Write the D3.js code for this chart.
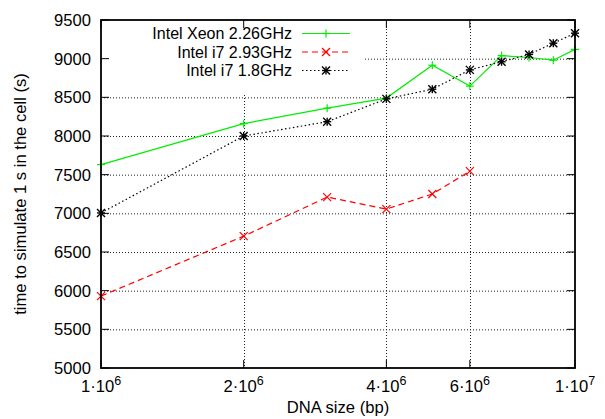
<!DOCTYPE html>
<html>
<head>
<meta charset="utf-8">
<script src="https://cdnjs.cloudflare.com/ajax/libs/d3/7.8.5/d3.min.js"></script>
<style>
  body { margin: 0; background: #fff; }
  svg { display: block; font-family: "Liberation Sans", Arial, sans-serif; }
</style>
</head>
<body>
<svg id="chart" width="605" height="419"></svg>
<script>
// Данные
const DNA_SIZES = [1e6, 2e6, 3e6, 4e6, 5e6, 6e6, 7e6, 8e6, 9e6, 1e7];
const XEON_226 = [7630, 8160, 8360, 8490, 8915, 8645, 9040, 9015, 8980, 9120];
const I7_293 = [5930, 6705, 7210, 7055, 7250, 7545];
const I7_18 = [7005, 8000, 8185, 8480, 8605, 8855, 8960, 9055, 9200, 9330];

const X_TICKS = [1e6, 2e6, 4e6, 6e6, 1e7];
const X_TICK_BASE = ['1·10', '2·10', '4·10', '6·10', '1·10'];
const X_TICK_EXP = ['6', '6', '6', '6', '7'];
const Y_TICKS = [5000, 5500, 6000, 6500, 7000, 7500, 8000, 8500, 9000, 9500];

const SERIES = [
    { name: 'Intel Xeon 2.26GHz', values: XEON_226, color: '#00ee00', dash: null, marker: 'plus' },
    { name: 'Intel i7 2.93GHz', values: I7_293, color: '#ff0000', dash: '6,4', marker: 'cross' },
    { name: 'Intel i7 1.8GHz', values: I7_18, color: '#000000', dash: '1.5,2.5', marker: 'star' }
];

const FONT = 16.6;
const svg = d3.select('#chart');
const pLeft = 101, pRight = 575, pTop = 20, pBottom = 368;

const x = d3.scaleLog().domain([1e6, 1e7]).range([pLeft, pRight]);
const y = d3.scaleLinear().domain([5000, 9500]).range([pBottom, pTop]);

// Сетка
const grid = svg.append('g')
    .attr('stroke', '#222')
    .attr('stroke-width', 1)
    .attr('stroke-dasharray', '1,2');
grid.selectAll('.yg').data(Y_TICKS.slice(1, -1)).enter().append('line')
    .attr('x1', pLeft).attr('x2', pRight)
    .attr('y1', d => y(d) + 0.5).attr('y2', d => y(d) + 0.5);
grid.selectAll('.xg').data(X_TICKS.slice(1, -1)).enter().append('line')
    .attr('x1', d => Math.round(x(d)) + 0.5).attr('x2', d => Math.round(x(d)) + 0.5)
    .attr('y1', pTop).attr('y2', pBottom);

// Фон легенды
svg.append('rect')
    .attr('x', pLeft + 1).attr('y', pTop + 1)
    .attr('width', 261).attr('height', 73)
    .attr('fill', '#fff');

// Маркеры
function drawMarker(g, type, cx, cy, color) {
    const s = 4;
    const lines = [];
    if (type === 'plus' || type === 'star') {
        lines.push([cx - s, cy, cx + s, cy], [cx, cy - s, cx, cy + s]);
    }
    if (type === 'cross' || type === 'star') {
        lines.push([cx - s, cy - s, cx + s, cy + s], [cx - s, cy + s, cx + s, cy - s]);
    }
    lines.forEach(l => {
        g.append('line')
            .attr('x1', l[0]).attr('y1', l[1]).attr('x2', l[2]).attr('y2', l[3])
            .attr('stroke', color)
            .attr('stroke-width', type === 'star' ? 1.4 : 1.2);
    });
}

// Линии серий
const line = d3.line()
    .x((d, i) => x(DNA_SIZES[i]))
    .y(d => y(d));

SERIES.forEach(s => {
    const g = svg.append('g');
    g.append('path')
        .datum(s.values)
        .attr('d', line)
        .attr('fill', 'none')
        .attr('stroke', s.color)
        .attr('stroke-width', 1.2)
        .attr('stroke-dasharray', s.dash);
    s.values.forEach((v, i) => drawMarker(g, s.marker, x(DNA_SIZES[i]), y(v), s.color));
});

// Легенда
const legendY = [33.5, 52, 70.5];
SERIES.forEach((s, i) => {
    const g = svg.append('g');
    g.append('text')
        .attr('x', 292).attr('y', legendY[i])
        .attr('dy', '0.36em')
        .attr('text-anchor', 'end')
        .attr('font-size', 16)
        .attr('textLength', null)
        .text(s.name);
    g.append('line')
        .attr('x1', 302).attr('x2', 350)
        .attr('y1', legendY[i]).attr('y2', legendY[i])
        .attr('stroke', s.color)
        .attr('stroke-width', 1.2)
        .attr('stroke-dasharray', s.dash);
    drawMarker(g, s.marker, 326, legendY[i], s.color);
});

// Рамка и деления
const axes = svg.append('g').attr('stroke', '#000').attr('stroke-width', 1);
Y_TICKS.forEach(v => {
    axes.append('line').attr('x1', pLeft).attr('x2', pLeft + 8).attr('y1', y(v)).attr('y2', y(v));
    axes.append('line').attr('x1', pRight - 8).attr('x2', pRight).attr('y1', y(v)).attr('y2', y(v));
});
X_TICKS.forEach(v => {
    axes.append('line').attr('x1', x(v)).attr('x2', x(v)).attr('y1', pBottom).attr('y2', pBottom - 8);
    axes.append('line').attr('x1', x(v)).attr('x2', x(v)).attr('y1', pTop).attr('y2', pTop + 8);
});
svg.append('rect')
    .attr('x', pLeft).attr('y', pTop)
    .attr('width', pRight - pLeft).attr('height', pBottom - pTop)
    .attr('fill', 'none')
    .attr('stroke', '#000')
    .attr('stroke-width', 1.8);

// Подписи оси Y
svg.selectAll('.ylab').data(Y_TICKS).enter().append('text')
    .attr('x', 91).attr('y', d => y(d))
    .attr('dy', '0.36em')
    .attr('text-anchor', 'end')
    .attr('font-size', FONT)
    .text(d => d);

// Подписи оси X
X_TICKS.forEach((v, i) => {
    const t = svg.append('text')
        .attr('x', x(v)).attr('y', 392)
        .attr('text-anchor', 'middle')
        .attr('font-size', FONT);
    t.append('tspan').text(X_TICK_BASE[i]);
    t.append('tspan').attr('dy', -7).attr('font-size', 12.5).text(X_TICK_EXP[i]);
});

// Названия осей
svg.append('text')
    .attr('x', (pLeft + pRight) / 2).attr('y', 413)
    .attr('text-anchor', 'middle')
    .attr('font-size', FONT)
    .text('DNA size (bp)');

svg.append('text')
    .attr('transform', `translate(26,${(pTop + pBottom) / 2}) rotate(-90)`)
    .attr('text-anchor', 'middle')
    .attr('font-size', FONT)
    .text('time to simulate 1 s in the cell (s)');
</script>
</body>
</html>
